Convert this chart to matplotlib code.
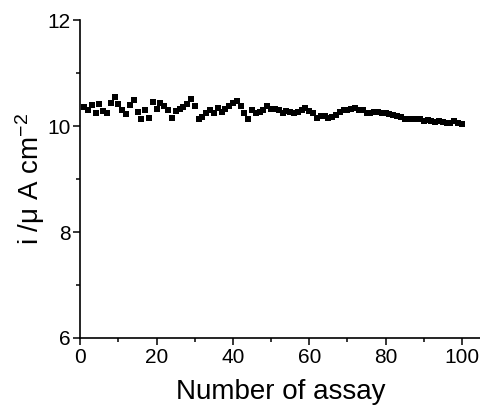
import numpy as np
import matplotlib
matplotlib.use('Agg')
import matplotlib.pyplot as plt
from matplotlib.ticker import MultipleLocator

plt.rcParams['font.family'] = 'Liberation Sans'
plt.rcParams['mathtext.default'] = 'regular'

# numer pomiaru i prąd
assay = np.arange(1, 101)
current = [
    10.36, 10.31, 10.40, 10.24, 10.41, 10.29, 10.25, 10.44, 10.54, 10.41,
    10.30, 10.22, 10.39, 10.49, 10.27, 10.13, 10.31, 10.15, 10.45, 10.33,
    10.43, 10.38, 10.31, 10.16, 10.28, 10.33, 10.36, 10.41, 10.51, 10.38,
    10.14, 10.18, 10.24, 10.30, 10.25, 10.35, 10.27, 10.33, 10.38, 10.43,
    10.47, 10.38, 10.24, 10.14, 10.30, 10.25, 10.27, 10.30, 10.38, 10.33,
    10.32, 10.30, 10.25, 10.28, 10.26, 10.24, 10.26, 10.30, 10.35, 10.28,
    10.24, 10.16, 10.19, 10.20, 10.16, 10.18, 10.21, 10.27, 10.31, 10.31,
    10.33, 10.35, 10.31, 10.30, 10.24, 10.25, 10.26, 10.26, 10.25, 10.24,
    10.22, 10.21, 10.19, 10.18, 10.14, 10.14, 10.14, 10.13, 10.13, 10.10,
    10.11, 10.09, 10.08, 10.09, 10.07, 10.06, 10.06, 10.09, 10.05, 10.04,
]

fig = plt.figure(figsize=(4.81, 4.08), dpi=100)
ax = fig.add_axes([0.167, 0.1716, 0.833, 0.779])

ax.plot(assay, current, 's', color='black', markersize=4.3, markeredgewidth=0)

ax.set_xlim(0, 105)
ax.set_ylim(6, 12)
ax.xaxis.set_major_locator(MultipleLocator(20))
ax.xaxis.set_minor_locator(MultipleLocator(10))
ax.yaxis.set_major_locator(MultipleLocator(2))
ax.yaxis.set_minor_locator(MultipleLocator(1))

ax.spines['top'].set_visible(False)
ax.spines['right'].set_visible(False)
for s in ['left', 'bottom']:
    ax.spines[s].set_linewidth(1.2)

ax.tick_params(which='major', direction='out', length=5, width=1.1, labelsize=15, pad=2)
ax.tick_params(which='minor', direction='out', length=3, width=1.1)

ax.set_xlabel('Number of assay', fontsize=20, labelpad=9)
ax.set_ylabel('i /μ A cm$^{-2}$', fontsize=20, labelpad=0)

fig.savefig('out.png', dpi=100)
